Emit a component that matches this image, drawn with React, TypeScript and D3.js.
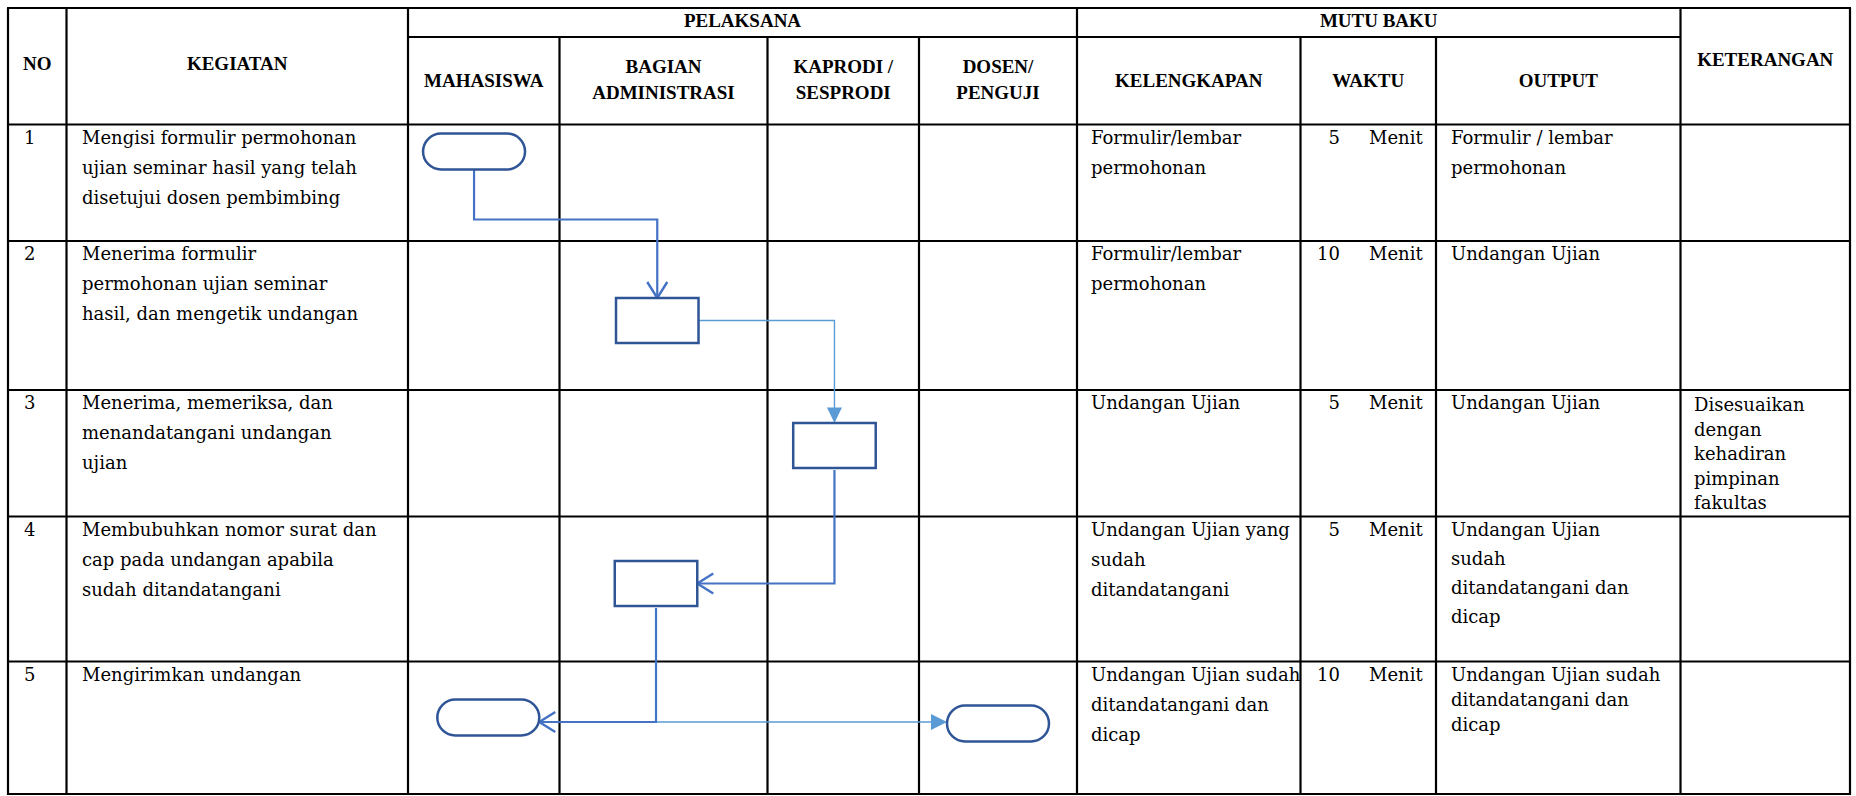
import React from "react";
import * as d3 from "d3";

// ---------- DATA ----------
const stepNumbers = ["1", "2", "3", "4", "5"];

const activities = [
  ["Mengisi formulir permohonan", "ujian seminar hasil yang telah", "disetujui dosen pembimbing"],
  ["Menerima formulir", "permohonan ujian seminar", "hasil, dan mengetik undangan"],
  ["Menerima, memeriksa, dan", "menandatangani undangan", "ujian"],
  ["Membubuhkan nomor surat dan", "cap pada undangan apabila", "sudah ditandatangani"],
  ["Mengirimkan undangan"],
];

const lanes = ["MAHASISWA", "BAGIAN ADMINISTRASI", "KAPRODI / SESPRODI", "DOSEN/ PENGUJI"];
const laneHeaderLines = [["MAHASISWA"], ["BAGIAN", "ADMINISTRASI"], ["KAPRODI /", "SESPRODI"], ["DOSEN/", "PENGUJI"]];

const kelengkapan = [
  ["Formulir/lembar", "permohonan"],
  ["Formulir/lembar", "permohonan"],
  ["Undangan Ujian"],
  ["Undangan Ujian yang", "sudah", "ditandatangani"],
  ["Undangan Ujian sudah", "ditandatangani dan", "dicap"],
];

const waktuValues = [5, 10, 5, 5, 10];
const waktuUnit = "Menit";

const outputs = [
  ["Formulir / lembar", "permohonan"],
  ["Undangan Ujian"],
  ["Undangan Ujian"],
  ["Undangan Ujian", "sudah", "ditandatangani dan", "dicap"],
  ["Undangan Ujian sudah", "ditandatangani dan", "dicap"],
];

const keterangan = [[], [], ["Disesuaikan", "dengan", "kehadiran", "pimpinan", "fakultas"], [], []];

const flowNodes = [
  { id: "n1", step: "1", lane: "MAHASISWA", shape: "terminator" },
  { id: "n2", step: "2", lane: "BAGIAN ADMINISTRASI", shape: "process" },
  { id: "n3", step: "3", lane: "KAPRODI / SESPRODI", shape: "process" },
  { id: "n4", step: "4", lane: "BAGIAN ADMINISTRASI", shape: "process" },
  { id: "n5a", step: "5", lane: "MAHASISWA", shape: "terminator" },
  { id: "n5b", step: "5", lane: "DOSEN/ PENGUJI", shape: "terminator" },
];

const flowLinks = [
  { from: "n1", to: "n2", route: "down-across-down", head: "open", kind: "main" },
  { from: "n2", to: "n3", route: "across-down", head: "filled", kind: "light" },
  { from: "n3", to: "n4", route: "down-across", head: "open", kind: "main" },
  { from: "n4", to: "n5b", route: "down-across", head: "filled", kind: "light" },
  { from: "n4", to: "n5a", route: "down-across", head: "open", kind: "main" },
];

// ---------- LAYOUT ----------
const W = 1856;
const H = 796;
const colEdges = [8, 66.5, 408, 559.5, 767.5, 919, 1077, 1300.5, 1436, 1680.5, 1850];
const tableTop = 8;
const subHeaderY = 37;
const rowEdges = [124.5, 241, 390, 516.5, 661.5, 794];

// node placement inside its lane cell: fraction of lane width for centre x, offset from row top for centre y
const nodePlace: Record<string, { fx: number; dy: number }> = {
  n1: { fx: 0.436, dy: 27 },
  n2: { fx: 0.47, dy: 79.5 },
  n3: { fx: 0.442, dy: 55.5 },
  n4: { fx: 0.464, dy: 67 },
  n5a: { fx: 0.53, dy: 56 },
  n5b: { fx: 0.5, dy: 62 },
};
const linkBend: Record<string, number> = { "n1-n2": 95, "n4-n5a": 60.5, "n4-n5b": 60.5 };

const shapeSize: Record<string, { w: number; h: number }> = {
  terminator: { w: 102, h: 36 },
  process: { w: 82.5, h: 45 },
};

const C_SHAPE = "#2F5597";
const C_MAIN = "#4472C4";
const C_LIGHT = "#5B9BD5";

const BODY_FONT = "'DejaVu Serif', serif";
const HEAD_FONT = "'Liberation Serif', serif";

const rowScale = d3.scaleOrdinal<string, number>().domain(stepNumbers).range(rowEdges.slice(0, 5));
const laneLeft = d3.scaleOrdinal<string, number>().domain(lanes).range(colEdges.slice(2, 6));
const laneRight = d3.scaleOrdinal<string, number>().domain(lanes).range(colEdges.slice(3, 7));

function nodeGeom(n: (typeof flowNodes)[number]) {
  const p = nodePlace[n.id];
  const x0 = laneLeft(n.lane);
  const x1 = laneRight(n.lane);
  const cx = d3.interpolateNumber(x0, x1)(p.fx);
  const cy = rowScale(n.step) + p.dy;
  const s = shapeSize[n.shape];
  return { ...n, cx, cy, w: s.w, h: s.h, left: cx - s.w / 2, right: cx + s.w / 2, top: cy - s.h / 2, bottom: cy + s.h / 2 };
}

const line = d3.line<[number, number]>().x((d) => d[0]).y((d) => d[1]);

function Lines({ items, x, y, lh, anchor = "start", font = BODY_FONT, size = 18, weight = "normal" }: any) {
  return (
    <text x={x} y={y} fontFamily={font} fontSize={size} fontWeight={weight} textAnchor={anchor} fill="#000">
      {items.map((t: string, i: number) => (
        <tspan key={i} x={x} y={y + i * lh}>
          {t}
        </tspan>
      ))}
    </text>
  );
}

export default function App() {
  const nodes = flowNodes.map(nodeGeom);
  const byId: Record<string, ReturnType<typeof nodeGeom>> = {};
  nodes.forEach((n) => (byId[n.id] = n));

  const links = flowLinks.map((l) => {
    const a = byId[l.from];
    const b = byId[l.to];
    let pts: [number, number][] = [];
    let dir: "down" | "left" | "right" = "down";
    const key = `${l.from}-${l.to}`;
    if (l.route === "down-across-down") {
      const by = rowScale(a.step) + linkBend[key];
      pts = [[a.cx, a.bottom], [a.cx, by], [b.cx, by], [b.cx, b.top]];
      dir = "down";
    } else if (l.route === "across-down") {
      pts = [[a.right, a.cy], [b.cx, a.cy], [b.cx, b.top]];
      dir = "down";
    } else {
      const by = linkBend[key] !== undefined ? rowScale(b.step) + linkBend[key] : b.cy;
      const goesLeft = b.cx < a.cx;
      const tx = goesLeft ? b.right : b.left;
      pts = [[a.cx, a.bottom + 2], [a.cx, by], [tx, by]];
      dir = goesLeft ? "left" : "right";
    }
    return { ...l, pts, dir };
  });

  const headLen = 16;
  const headHalf = 10;

  function arrowHead(l: any) {
    const tip = l.pts[l.pts.length - 1];
    const [tx, ty] = tip;
    let p1: [number, number], p2: [number, number];
    if (l.dir === "down") {
      p1 = [tx - headHalf, ty - headLen];
      p2 = [tx + headHalf, ty - headLen];
    } else if (l.dir === "left") {
      p1 = [tx + headLen, ty - headHalf];
      p2 = [tx + headLen, ty + headHalf];
    } else {
      p1 = [tx - headLen, ty - headHalf * 0.8];
      p2 = [tx - headLen, ty + headHalf * 0.8];
    }
    if (l.head === "open") {
      return <path d={line([p1, tip, p2]) || ""} fill="none" stroke={C_MAIN} strokeWidth={2.4} />;
    }
    const q1: [number, number] = l.dir === "down" ? [tx - 7.5, ty - 15.5] : p1;
    const q2: [number, number] = l.dir === "down" ? [tx + 7.5, ty - 15.5] : p2;
    return <path d={(line([q1, tip, q2]) || "") + "Z"} fill={C_LIGHT} stroke="none" />;
  }

  function linePath(l: any) {
    const pts = l.pts.map((p: [number, number]) => [p[0], p[1]] as [number, number]);
    if (l.head === "filled") {
      const last = pts[pts.length - 1];
      if (l.dir === "down") last[1] -= 14;
      else if (l.dir === "right") last[0] -= 14;
      else last[0] += 14;
    }
    return line(pts) || "";
  }

  const tableX0 = colEdges[0];
  const tableX1 = colEdges[colEdges.length - 1];
  const bodyBottom = rowEdges[rowEdges.length - 1];
  const stroke = "#000";
  const sw = 2.2;

  const groupVerticals = [colEdges[0], colEdges[1], colEdges[2], colEdges[6], colEdges[9], colEdges[10]];
  const subVerticals = [colEdges[3], colEdges[4], colEdges[5], colEdges[7], colEdges[8]];

  const lh = 30;
  const baseOff = 19;

  return (
    <svg width={W} height={H} style={{ position: "absolute", left: 0, top: 0, display: "block", background: "#fff" }}>
      <rect x={0} y={0} width={W} height={H} fill="#fff" />
      {/* grid */}
      <g stroke={stroke} strokeWidth={sw} fill="none">
        <line x1={tableX0 - 1} x2={tableX1 + 1} y1={tableTop} y2={tableTop} />
        <line x1={colEdges[2]} x2={colEdges[9]} y1={subHeaderY} y2={subHeaderY} />
        {rowEdges.map((y, i) => (
          <line key={"h" + i} x1={tableX0 - 1} x2={tableX1 + 1} y1={y} y2={y} />
        ))}
        {groupVerticals.map((x, i) => (
          <line key={"gv" + i} x1={x} x2={x} y1={tableTop} y2={bodyBottom + 1} />
        ))}
        {subVerticals.map((x, i) => (
          <line key={"sv" + i} x1={x} x2={x} y1={subHeaderY} y2={bodyBottom + 1} />
        ))}
      </g>

      {/* headers */}
      <g fontFamily={HEAD_FONT} fontWeight="bold" fontSize={19} textAnchor="middle" fill="#000">
        <text x={(colEdges[0] + colEdges[1]) / 2} y={70}>NO</text>
        <text x={(colEdges[1] + colEdges[2]) / 2} y={70}>KEGIATAN</text>
        <text x={(colEdges[2] + colEdges[6]) / 2} y={27}>PELAKSANA</text>
        <text x={(colEdges[6] + colEdges[9]) / 2} y={27}>MUTU BAKU</text>
        <text x={(colEdges[9] + colEdges[10]) / 2} y={66}>KETERANGAN</text>
        <text x={(colEdges[6] + colEdges[7]) / 2} y={87}>KELENGKAPAN</text>
        <text x={(colEdges[7] + colEdges[8]) / 2} y={87}>WAKTU</text>
        <text x={(colEdges[8] + colEdges[9]) / 2} y={87}>OUTPUT</text>
      </g>
      {laneHeaderLines.map((ls, i) => {
        const cx = (colEdges[2 + i] + colEdges[3 + i]) / 2;
        const y0 = ls.length === 1 ? 87 : 73;
        return <Lines key={"lh" + i} items={ls} x={cx} y={y0} lh={26} anchor="middle" font={HEAD_FONT} size={19} weight="bold" />;
      })}

      {/* body text */}
      {stepNumbers.map((s, i) => {
        const y = rowScale(s) + baseOff;
        return (
          <g key={"r" + s}>
            <text x={24} y={y} fontFamily={BODY_FONT} fontSize={18}>{s}</text>
            <Lines items={activities[i]} x={82} y={y} lh={lh} />
            <Lines items={kelengkapan[i]} x={1091} y={y} lh={lh} />
            <text x={1340} y={y} fontFamily={BODY_FONT} fontSize={18} textAnchor="end">{waktuValues[i]}</text>
            <text x={1369} y={y} fontFamily={BODY_FONT} fontSize={18}>{waktuUnit}</text>
            <Lines items={outputs[i]} x={1451} y={y} lh={i === 4 ? 25 : i === 3 ? 29 : lh} />
            <Lines items={keterangan[i]} x={1694} y={y + 2} lh={24.5} />
          </g>
        );
      })}

      {/* connectors */}
      <g fill="none">
        {links
          .filter((l) => l.kind === "light")
          .map((l, i) => (
            <path key={"ll" + i} d={linePath(l)} stroke={C_LIGHT} strokeWidth={1.4} />
          ))}
        {links
          .filter((l) => l.kind === "main")
          .map((l, i) => (
            <path key={"lm" + i} d={linePath(l)} stroke={C_MAIN} strokeWidth={2.2} />
          ))}
        {links.map((l, i) => (
          <g key={"ah" + i}>{arrowHead(l)}</g>
        ))}
      </g>

      {/* shapes */}
      <g fill="#fff" stroke={C_SHAPE} strokeWidth={2.5}>
        {nodes.map((n) =>
          n.shape === "terminator" ? (
            <rect key={n.id} x={n.left} y={n.top} width={n.w} height={n.h} rx={n.h / 2} ry={n.h / 2} />
          ) : (
            <rect key={n.id} x={n.left} y={n.top} width={n.w} height={n.h} />
          )
        )}
      </g>
    </svg>
  );
}
